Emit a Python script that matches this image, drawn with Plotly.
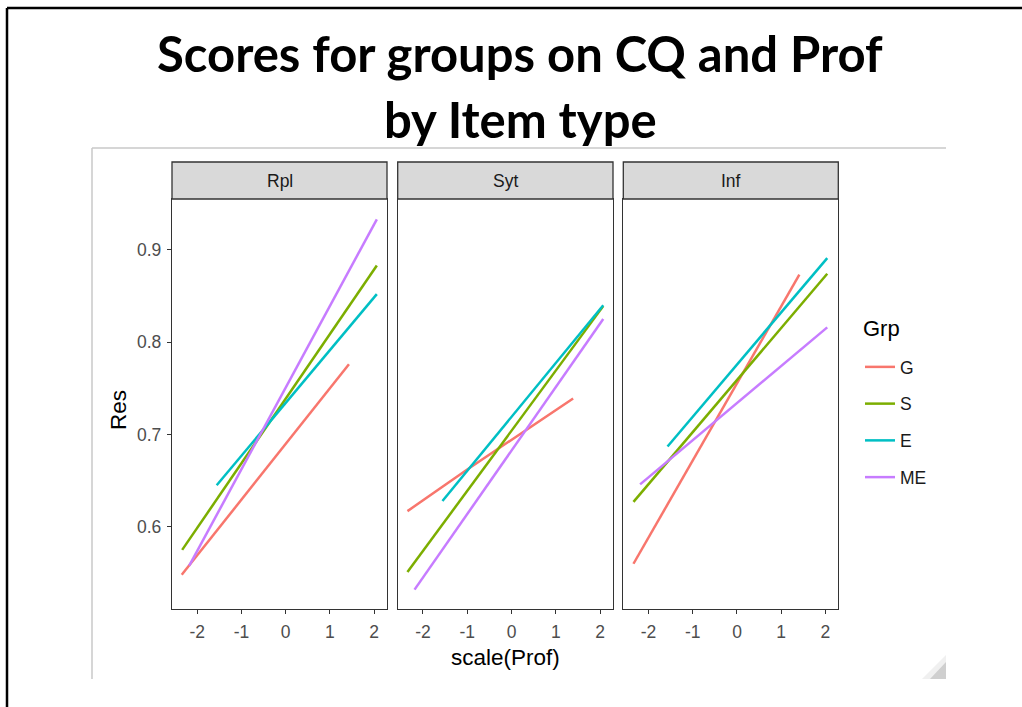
import plotly.graph_objects as go

W, H = 1022, 707

panels = ["Rpl", "Syt", "Inf"]
groups = ["G", "S", "E", "ME"]
colors = {"G": "#F8766D", "S": "#7CAE00", "E": "#00BFC4", "ME": "#C77CFF"}

# x = scale(Prof), y = Res in each panel
rpl_x = {"G": [-2.35, 1.43], "S": [-2.34, 2.06], "E": [-1.56, 2.06], "ME": [-2.18, 2.06]}
rpl_y = {"G": [0.548, 0.776], "S": [0.575, 0.883], "E": [0.645, 0.852], "ME": [0.558, 0.933]}

syt_x = {"G": [-2.35, -1.0, 1.39], "S": [-2.35, 2.07], "E": [-1.56, 2.07], "ME": [-2.19, 2.07]}
syt_y = {"G": [0.617, 0.662, 0.739], "S": [0.551, 0.839], "E": [0.628, 0.840], "ME": [0.532, 0.825]}

inf_x = {"G": [-2.34, 1.41], "S": [-2.34, 2.04], "E": [-1.57, 2.04], "ME": [-2.19, 2.04]}
inf_y = {"G": [0.560, 0.873], "S": [0.627, 0.874], "E": [0.687, 0.891], "ME": [0.646, 0.816]}

panel_data = [(rpl_x, rpl_y), (syt_x, syt_y), (inf_x, inf_y)]

x_ticks = [-2, -1, 0, 1, 2]
x_ticktext = ["-2", "-1", "0", "1", "2"]
y_ticks = [0.6, 0.7, 0.8, 0.9]
x_range = [-2.57, 2.29]
y_range = [0.511, 0.955]

# panel placement in pixels (left, right), shared top/bottom
panel_px = [(172, 387), (397.7, 613), (623.3, 838.3)]
top_px, bot_px = 199, 609
strip_top_px = 162


def px(x):
    return x / W


def py(y):
    return 1 - y / H


fig = go.Figure()

for i, (xs, ys) in enumerate(panel_data):
    sfx = "" if i == 0 else str(i + 1)
    for g in groups:
        fig.add_trace(
            go.Scatter(
                x=xs[g],
                y=ys[g],
                mode="lines",
                name=g,
                legendgroup=g,
                showlegend=(i == 0),
                line=dict(color=colors[g], width=2.5),
                xaxis="x" + sfx,
                yaxis="y" + sfx,
            )
        )

axis_common = dict(
    showgrid=False,
    zeroline=False,
    showline=True,
    mirror=True,
    linecolor="#333333",
    linewidth=1.3,
    ticks="outside",
    ticklen=4,
    tickwidth=1.2,
    tickcolor="#333333",
    tickfont=dict(family="Liberation Sans, Arial", size=17.5, color="#4D4D4D"),
)

layout_axes = {}
for i, (l, r) in enumerate(panel_px):
    sfx = "" if i == 0 else str(i + 1)
    layout_axes["xaxis" + sfx] = dict(
        axis_common,
        domain=[px(l), px(r)],
        range=x_range,
        tickvals=x_ticks,
        ticktext=x_ticktext,
        ticklabelstandoff=3,
        anchor="y" + sfx,
    )
    ycfg = dict(
        axis_common,
        domain=[py(bot_px), py(top_px)],
        range=y_range,
        tickvals=y_ticks,
        ticklabelstandoff=2,
        anchor="x" + sfx,
    )
    if i > 0:
        ycfg.update(showticklabels=False, ticks="")
    layout_axes["yaxis" + sfx] = ycfg

shapes = []
annotations = []
for (l, r), name in zip(panel_px, panels):
    shapes.append(
        dict(
            type="rect", xref="paper", yref="paper",
            x0=px(l), x1=px(r), y0=py(top_px), y1=py(strip_top_px),
            fillcolor="#D9D9D9", line=dict(color="#333333", width=1.3),
        )
    )
    annotations.append(
        dict(
            text=name, xref="paper", yref="paper",
            x=px((l + r) / 2), y=py((top_px + strip_top_px) / 2),
            showarrow=False, xanchor="center", yanchor="middle",
            font=dict(family="Liberation Sans, Arial", size=17.5, color="#1A1A1A"),
        )
    )

# slide frame, embedded image frame and its resize grip
shapes += [
    dict(type="line", xref="paper", yref="paper", x0=px(7), x1=1, y0=py(8), y1=py(8),
         line=dict(color="black", width=2.5)),
    dict(type="line", xref="paper", yref="paper", x0=px(7), x1=px(7), y0=py(8), y1=0,
         line=dict(color="black", width=2.5)),
    dict(type="line", xref="paper", yref="paper", x0=px(92), x1=px(946), y0=py(148), y1=py(148),
         line=dict(color="#C8C8C8", width=1.5)),
    dict(type="line", xref="paper", yref="paper", x0=px(92), x1=px(92), y0=py(148), y1=py(679),
         line=dict(color="#C8C8C8", width=1.5)),
    dict(type="path", xref="paper", yref="paper",
         path=f"M {px(922)},{py(679)} L {px(946)},{py(655)} L {px(946)},{py(679)} Z",
         fillcolor="#F0F0F0", line=dict(width=0)),
    dict(type="path", xref="paper", yref="paper",
         path=f"M {px(930)},{py(679)} L {px(946)},{py(662)} L {px(946)},{py(679)} Z",
         fillcolor="#CFCFCF", line=dict(width=0)),
]

title_font = dict(family="Lato, Open Sans", size=49, color="black")
annotations += [
    dict(text="<b>Scores for groups on CQ and Prof</b>", xref="paper", yref="paper",
         x=px(520), y=py(53), showarrow=False, xanchor="center", yanchor="middle",
         font=title_font),
    dict(text="<b>by Item type</b>", xref="paper", yref="paper",
         x=px(520), y=py(119), showarrow=False, xanchor="center", yanchor="middle",
         font=title_font),
    dict(text="Res", xref="paper", yref="paper", x=px(118), y=py(410), textangle=-90,
         showarrow=False, xanchor="center", yanchor="middle",
         font=dict(family="Liberation Sans, Arial", size=22.5, color="black")),
    dict(text="scale(Prof)", xref="paper", yref="paper", x=px(505), y=py(657),
         showarrow=False, xanchor="center", yanchor="middle",
         font=dict(family="Liberation Sans, Arial", size=22.5, color="black")),
    dict(text="Grp", xref="paper", yref="paper", x=px(861), y=py(328),
         showarrow=False, xanchor="left", yanchor="middle",
         font=dict(family="Liberation Sans, Arial", size=22, color="black")),
]

fig.update_layout(
    **layout_axes,
    shapes=shapes,
    annotations=annotations,
    showlegend=True,
    legend=dict(
        font=dict(family="Liberation Sans, Arial", size=17.5, color="#1A1A1A"),
        x=px(860),
        xanchor="left",
        y=py(349),
        yanchor="top",
        tracegroupgap=11,
        itemwidth=30,
        bgcolor="rgba(0,0,0,0)",
    ),
    plot_bgcolor="white",
    paper_bgcolor="white",
    margin=dict(l=0, r=0, t=0, b=0),
    width=W,
    height=H,
)

fig.write_html(
    "out.html",
    config={"displayModeBar": False},
    post_script="document.body.style.margin='0px';",
)
